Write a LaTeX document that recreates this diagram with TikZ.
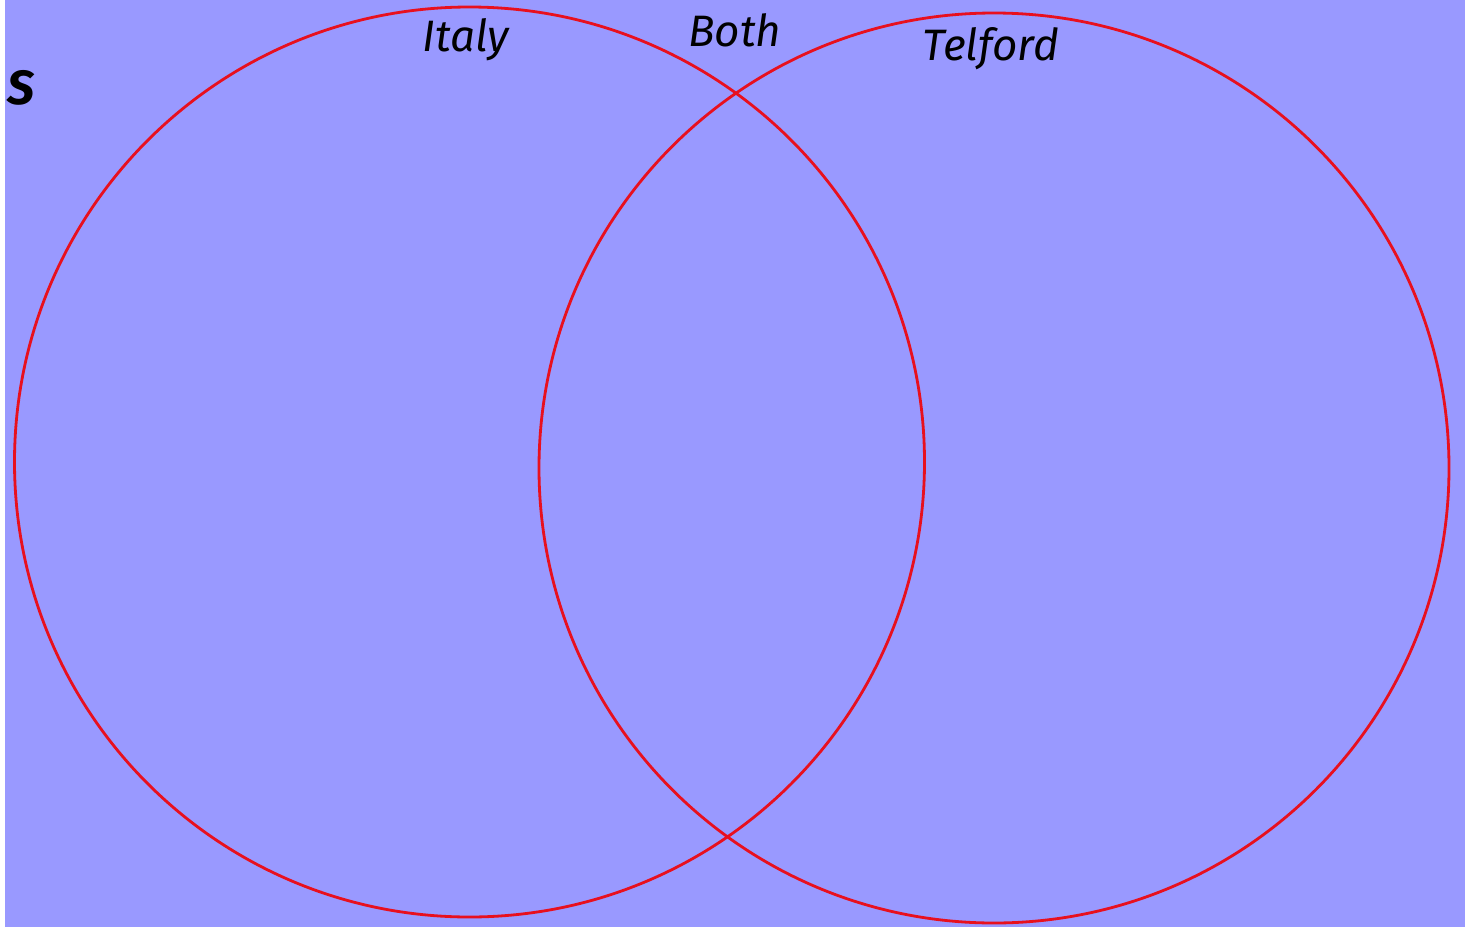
\documentclass[tikz,border=0pt]{standalone}
\usepackage{fontspec}
\setmainfont{Fira Sans}
\definecolor{bgblue}{HTML}{9999FF}
\definecolor{ringred}{HTML}{E8101E}
\begin{document}
\begin{tikzpicture}[x=1pt,y=-1pt,
  ring/.style={draw=ringred,line width=2.8pt},
  lbl/.style={font=\fontsize{44}{50}\selectfont\itshape,text=black,inner sep=0pt}]
\useasboundingbox (0,0) rectangle (1465,927);
\fill[white] (0,0) rectangle (1465,927);
\fill[bgblue] (5,0) rectangle (1465,927);
\node[ring,circle,minimum size=910pt,inner sep=0pt] (italyc) at (469.5,462) {};
\node[ring,circle,minimum size=910pt,inner sep=0pt] (telfordc) at (994,468) {};
\node[lbl,anchor=base] (italy) at (466,51) {Italy};
\node[lbl,anchor=base] (both) at (735,46) {Both};
\node[lbl,anchor=base] (telford) at (991,60) {Telford};
\node[font=\fontsize{48}{52}\selectfont\bfseries\itshape,inner sep=0pt,anchor=base] (s) at (21,104) {S};
\end{tikzpicture}
\end{document}
